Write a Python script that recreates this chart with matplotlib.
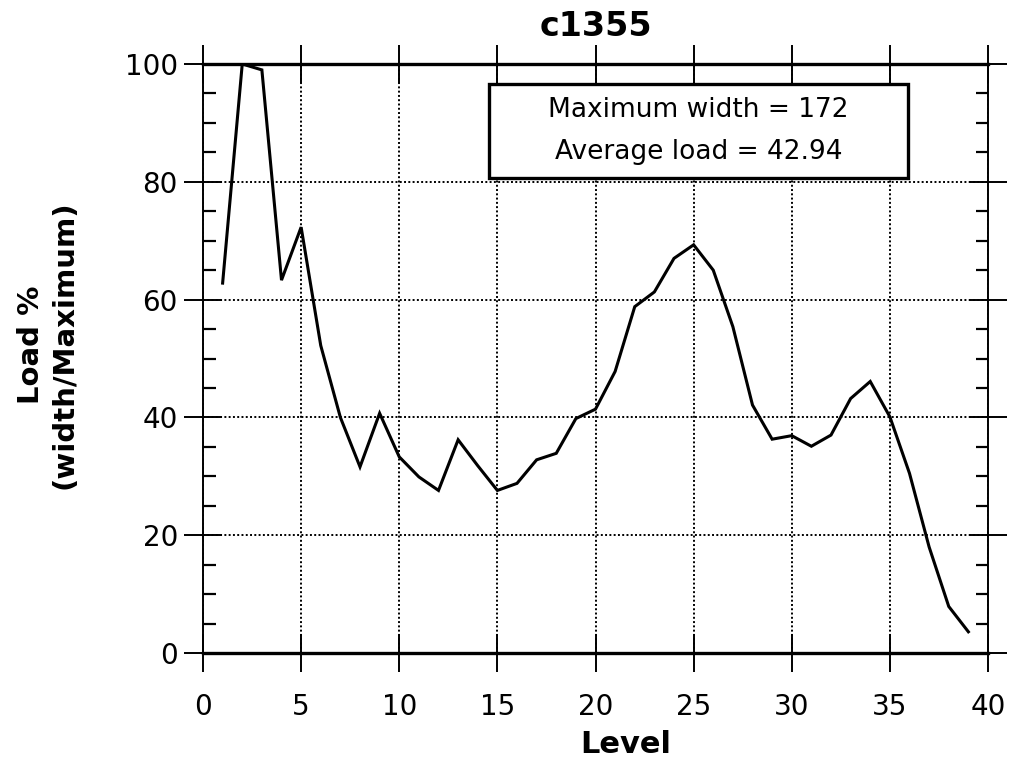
import matplotlib
matplotlib.use("Agg")
import matplotlib.pyplot as plt
from matplotlib.ticker import MultipleLocator
from matplotlib.patches import Rectangle

levels = list(range(1, 40))
load = [62.8, 100.0, 99.0, 63.3, 72.3, 52.2, 40.0, 31.6, 40.7, 33.3,
        29.9, 27.6, 36.2, 31.8, 27.6, 28.8, 32.8, 33.9, 39.8, 41.4,
        47.8, 58.8, 61.3, 67.0, 69.3, 65.0, 55.4, 42.1, 36.3, 36.9,
        35.1, 37.0, 43.2, 46.1, 40.1, 30.5, 18.0, 7.9, 3.6]

title = "c1355"
xlabel = "Level"
ylabel = "Load %\n(width/Maximum)"
info_lines = ["Maximum width = 172", "Average load = 42.94"]

plt.rcParams['font.family'] = ['DejaVu Sans']

fig = plt.figure(figsize=(10.2, 7.61), dpi=100)
ax = fig.add_axes([203/1020, 1 - 653/761, (988-203)/1020, (653-64)/761])

ax.plot(levels, load, color='black', lw=2.2, solid_joinstyle='miter', zorder=3)

ax.set_xlim(0, 40)
ax.set_ylim(0, 100)
ax.xaxis.set_major_locator(MultipleLocator(5))
ax.yaxis.set_major_locator(MultipleLocator(20))
ax.yaxis.set_minor_locator(MultipleLocator(5))

ax.grid(True, which='major', color='black', linestyle=(0, (1, 1.2)), lw=1.4)

ax.tick_params(which='major', direction='inout', length=28, width=1.4,
               top=True, right=True, labelsize=20)
ax.tick_params(axis='x', which='major', pad=15)
ax.tick_params(axis='y', which='major', pad=4)
ax.tick_params(axis='x', which='minor', bottom=False, top=False)
ax.tick_params(axis='y', which='minor', direction='in', length=9, width=1.6,
               left=True, right=True)

for s in ['left', 'right']:
    ax.spines[s].set_linewidth(1.4)
for s in ['top', 'bottom']:
    ax.spines[s].set_linewidth(2.4)

ax.set_title(title, fontsize=24, fontweight='bold', pad=20)
ax.set_xlabel(xlabel, fontsize=22, fontweight='bold')
ax.xaxis.set_label_coords((626 - 203) / 785, -0.131)
ax.set_ylabel(ylabel, fontsize=21, fontweight='bold', linespacing=1.25)
ax.yaxis.set_label_coords(-0.159, (653 - 345) / 589)

# info box
bx0, bx1 = (489 - 203) / 785, (908 - 203) / 785
by0, by1 = (653 - 178) / 589, (653 - 84) / 589
ax.add_patch(Rectangle((bx0, by0), bx1 - bx0, by1 - by0, transform=ax.transAxes,
                       facecolor='white', edgecolor='black', lw=2.4, zorder=5))
ax.text((bx0 + bx1) / 2, by0 + (by1 - by0) * 0.72, info_lines[0], transform=ax.transAxes,
        ha='center', va='center', fontsize=19, zorder=6)
ax.text((bx0 + bx1) / 2, by0 + (by1 - by0) * 0.28, info_lines[1], transform=ax.transAxes,
        ha='center', va='center', fontsize=19, zorder=6)

fig.savefig("out.png", dpi=100, facecolor='white')
